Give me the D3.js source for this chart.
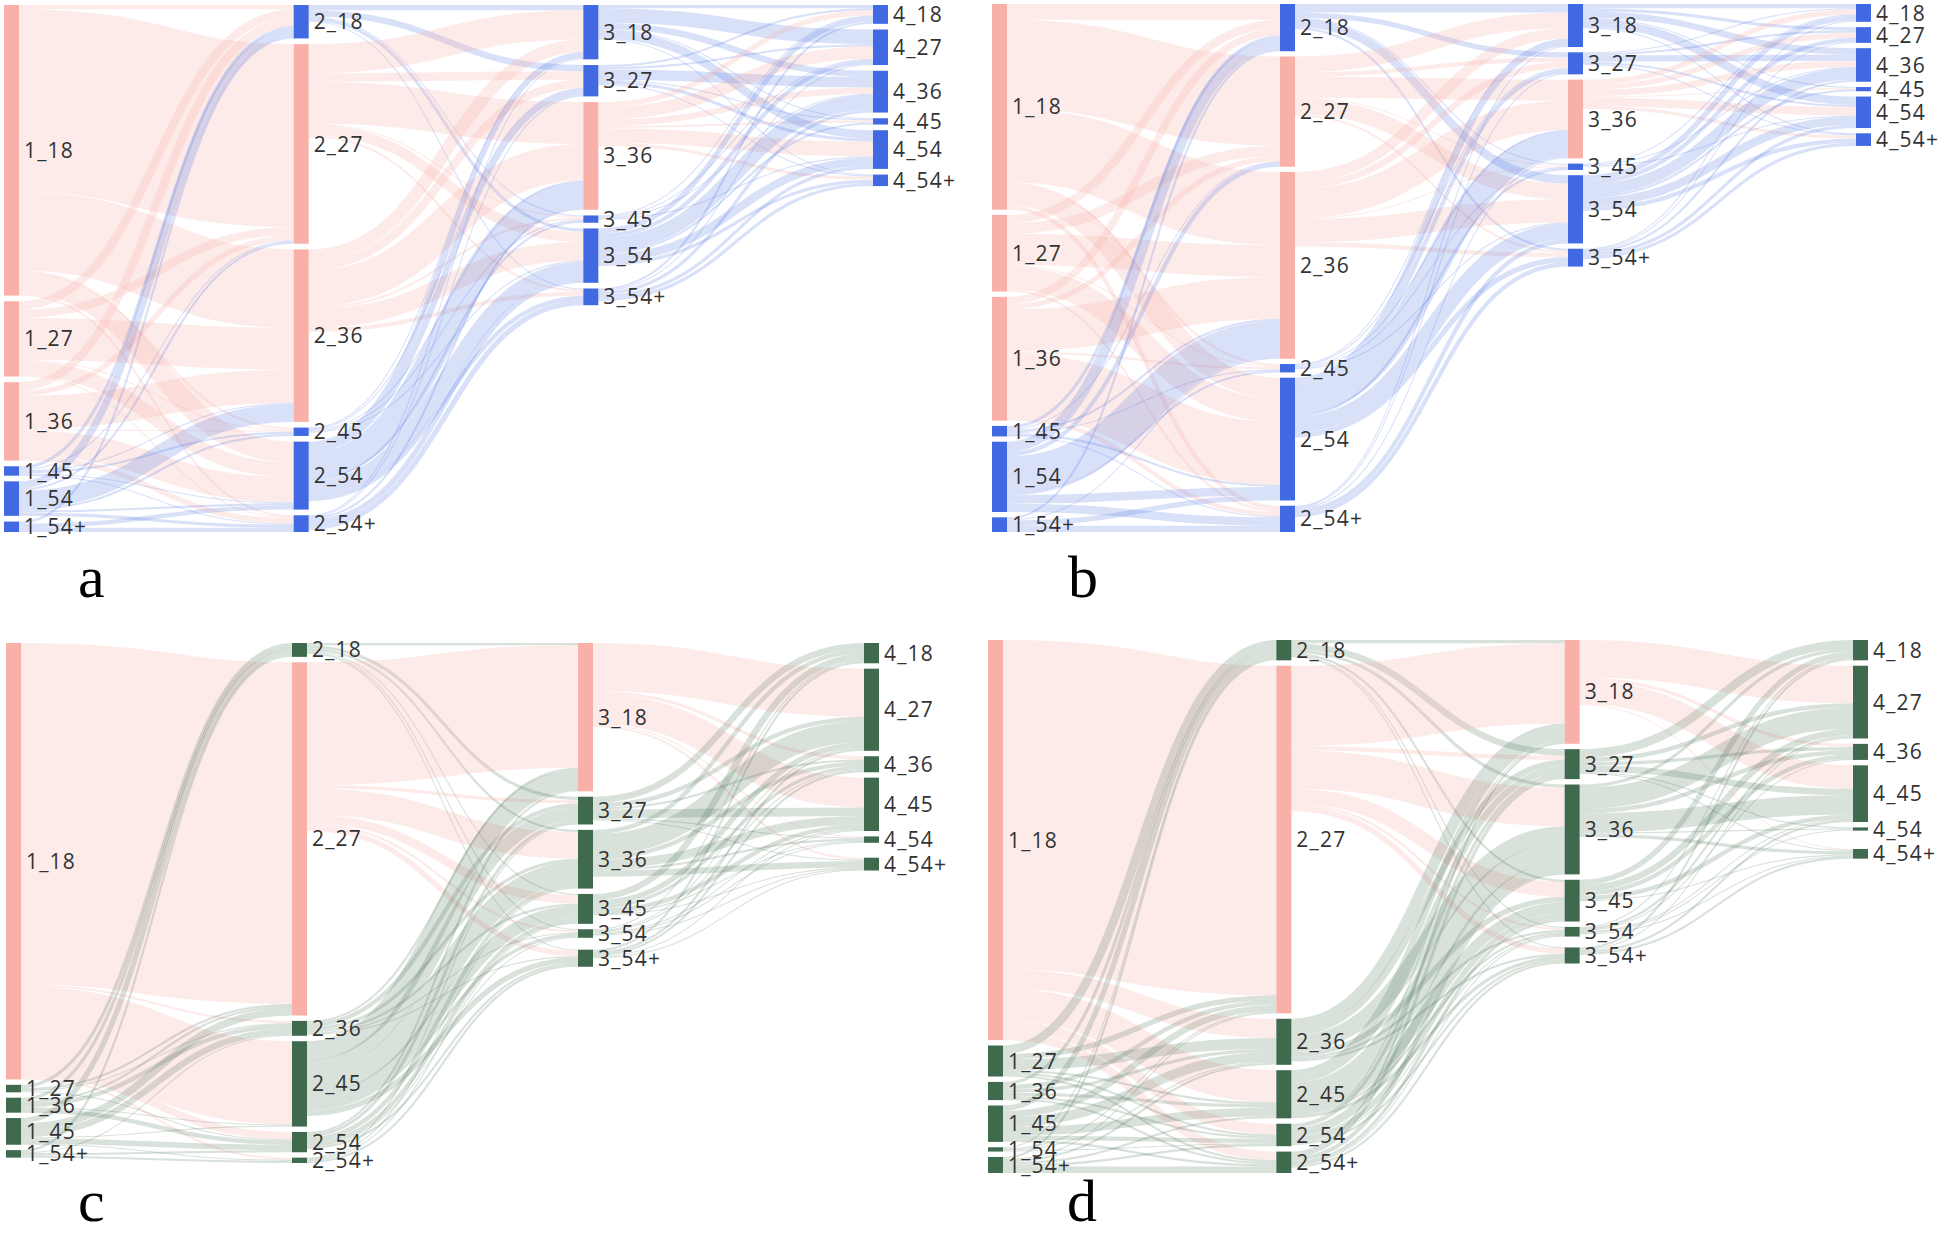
<!DOCTYPE html>
<html><head><meta charset="utf-8">
<script src="https://cdn.jsdelivr.net/npm/d3@7"></script>
<style>html,body{margin:0;padding:0;background:#fff;}</style>
</head><body>
<svg id="chart" width="1944" height="1234"></svg>
<script>
// ---------- DATA ----------
const ages = ["18","27","36","45","54","54+"];
const stages = [1,2,3,4];
const panelLetters = ["a","b","c","d"];

// rows: source age group at stage s; columns: target age group at stage s+1
const flowsA_1to2 = [[4,175,75,2,20,2],[8,8,40,1,14,1],[8,5,32,1,24,5],[3,1,1,2,1,1],[7,2,17,2,2,3],[2,0,0,0,4,4]];
const flowsA_2to3 = [[5,6,0,1,3,1],[28,8,40,1,10,2],[12,8,35,2,18,4],[1,1,1,1,1,0],[5,6,25,2,15,4],[1,1,2,0,5,5]];
const flowsA_3to4 = [[3,14,6,1,8,1],[2,2,10,1,3,1],[5,12,6,2,14,3],[1,1,1,0,1,0],[5,4,14,2,8,3],[2,1,3,0,3,3]];

const flowsB_1to2 = [[15,85,70,2,20,4],[8,10,30,1,22,2],[7,5,40,2,60,4],[3,1,2,1,2,1],[10,4,35,2,8,8],[2,0,1,0,5,6]];
const flowsB_2to3 = [[8,5,0,1,8,2],[15,4,20,1,15,2],[10,6,28,1,22,4],[1,1,1,1,1,0],[6,4,25,2,15,5],[1,1,1,0,4,4]];
const flowsB_3to4 = [[4,3,6,1,8,1],[1,2,6,0,2,1],[5,5,6,1,8,3],[1,0,1,0,1,0],[5,4,11,2,8,4],[1,1,2,0,3,3]];

const flowsC_1to2 = [[0,320,2,78,7,2],[3,2,1,0,1,0],[3,2,4,1,4,0],[5,7,6,1,5,1],[0,0,0,0,0,0],[2,0,1,0,2,2]];
const flowsC_2to3 = [[2,3,2,1,1,1],[115,3,25,8,2,5],[2,4,3,2,1,1],[18,12,20,12,3,5],[2,3,4,4,1,2],[0,1,1,1,0,2]];
const flowsC_3to4 = [[0,45,3,28,1,2],[6,4,2,8,1,1],[4,20,4,8,2,6],[6,5,3,4,1,1],[1,1,1,1,1,1],[2,2,2,1,0,1]];

const flowsD_1to2 = [[0,308,18,30,10,8],[8,5,10,2,2,2],[3,4,3,3,2,2],[5,6,9,8,4,2],[1,1,1,0,1,0],[2,1,2,2,2,6]];
const flowsD_2to3 = [[3,6,3,2,1,1],[75,4,36,14,2,5],[10,6,15,5,2,2],[6,6,18,10,2,3],[1,3,8,5,1,2],[2,3,4,3,1,2]];
const flowsD_3to4 = [[0,35,3,22,0,1],[8,4,3,6,1,1],[3,20,4,18,1,3],[5,6,4,4,0,1],[1,2,1,1,1,1],[2,1,0,2,0,2]];

const pinkNodesAB = ["1_18","1_27","1_36","2_27","2_36","3_36"];
const pinkNodesCD = ["1_18","2_27","3_18"];

// ---------- LAYOUT / STYLE ----------
const PINK = "#f8b0a8", BLUE = "#4169e1", GREEN = "#3f6a4d";
const nodeW = 15;
const panels = [
  {letter: panelLetters[0], flows:[flowsA_1to2,flowsA_2to3,flowsA_3to4], pink:pinkNodesAB, accent:BLUE,
   x0:4, x1:873, y0:5, h:527, pad:5.7, lastGap:[0,0,0,0], lx:78, ly:597},
  {letter: panelLetters[1], flows:[flowsB_1to2,flowsB_2to3,flowsB_3to4], pink:pinkNodesAB, accent:BLUE,
   x0:992, x1:1856, y0:4, h:528, pad:5.3, lastGap:[0,0,0,0], lx:1068, ly:597},
  {letter: panelLetters[2], flows:[flowsC_1to2,flowsC_2to3,flowsC_3to4], pink:pinkNodesCD, accent:GREEN,
   x0:6, x1:864, y0:643, h:520, pad:5.4, lastGap:[0,0,6.5,9.5], lx:78, ly:1221},
  {letter: panelLetters[3], flows:[flowsD_1to2,flowsD_2to3,flowsD_3to4], pink:pinkNodesCD, accent:GREEN,
   x0:988, x1:1853, y0:640, h:533, pad:5.4, lastGap:[0,0,5.5,13], lx:1067, ly:1221}
];

const svg = d3.select("#chart");

function buildGraph(flows){
  const cols = stages.map((s,c)=>ages.map((a,i)=>({id:`${s}_${a}`, col:c, idx:i, inV:0, outV:0, sourceLinks:[], targetLinks:[]})));
  const links = [];
  flows.forEach((m,c)=>m.forEach((row,i)=>row.forEach((v,j)=>{
    if(v>0){
      const l = {source:cols[c][i], target:cols[c+1][j], value:v};
      links.push(l);
      l.source.outV += v; l.target.inV += v;
      l.source.sourceLinks.push(l); l.target.targetLinks.push(l);
    }
  })));
  cols.flat().forEach(n=>n.value = Math.max(n.inV, n.outV));
  return {cols, links};
}

panels.forEach(p=>{
  const {cols, links} = buildGraph(p.flows);
  const ky = d3.min(cols, col=>{
    const live = col.filter(n=>n.value>0);
    return (p.h - (live.length-1)*p.pad) / d3.sum(live, n=>n.value);
  });
  const yv = d3.scaleLinear().domain([0,1]).range([0,ky]);
  const xs = d3.scaleLinear().domain([0,3]).range([p.x0, p.x1]);

  cols.forEach((col,c)=>{
    let y = p.y0;
    col.forEach(n=>{
      if(n.value<=0) return;
      if(n.idx === ages.length-1) y += p.lastGap[c];
      n.x0 = xs(n.col); n.x1 = n.x0 + nodeW;
      n.y0 = y; n.y1 = y + yv(n.value);
      y = n.y1 + p.pad;
    });
  });
  cols.flat().forEach(n=>{
    if(n.value<=0) return;
    let sy = n.y0;
    n.sourceLinks.forEach(l=>{ const w=yv(l.value); l.width=w; l.ys = sy + w/2; sy += w; });
    let ty = n.y0;
    n.targetLinks.forEach(l=>{ const w=yv(l.value); l.yt = ty + w/2; ty += w; });
  });

  const colorOf = n => p.pink.includes(n.id) ? PINK : p.accent;
  const g = svg.append("g");
  const linkGen = d3.linkHorizontal().source(l=>[l.source.x1, l.ys]).target(l=>[l.target.x0, l.yt]);

  g.append("g").attr("fill","none")
    .selectAll("path").data(links).join("path")
    .attr("d", linkGen)
    .attr("stroke", l=>colorOf(l.source))
    .attr("stroke-opacity", l=>colorOf(l.source)===PINK ? 0.25 : 0.2)
    .attr("stroke-width", l=>Math.max(1, l.width));

  const live = cols.flat().filter(n=>n.value>0);
  g.append("g").selectAll("rect").data(live).join("rect")
    .attr("x", n=>n.x0).attr("y", n=>n.y0)
    .attr("width", nodeW).attr("height", n=>Math.max(1, n.y1-n.y0))
    .attr("fill", colorOf);

  g.append("g").selectAll("text").data(live).join("text")
    .attr("x", n=>n.x1+5).attr("y", n=>Math.max(13, (n.y0+n.y1)/2)).attr("dy","0.36em")
    .attr("font-family","'Open Sans', 'Noto Sans', sans-serif")
    .attr("font-size", 21).attr("letter-spacing", 1.2)
    .attr("fill","#333")
    .text(n=>n.id);

  svg.append("text").attr("x", p.lx).attr("y", p.ly)
    .attr("font-family","'Liberation Serif', 'Times New Roman', serif")
    .attr("font-size", 60).attr("fill","#000")
    .text(p.letter);
});
</script>
</body></html>
